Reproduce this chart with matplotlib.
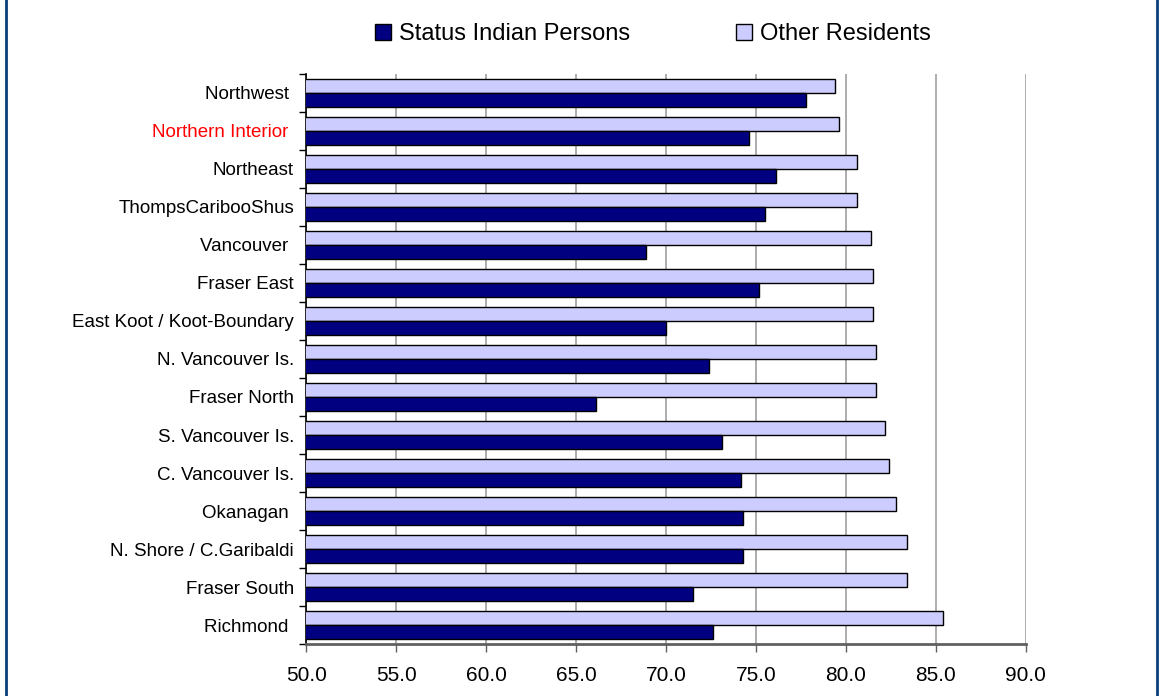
import numpy as np
import matplotlib.pyplot as plt
from matplotlib.patches import Patch
from matplotlib.lines import Line2D

plt.rcParams['font.family'] = ['Liberation Sans', 'DejaVu Sans']

# ======================
# DATA (top to bottom)
# ======================
regions = [
    "Northwest ", "Northern Interior ", "Northeast", "ThompsCaribooShus",
    "Vancouver ", "Fraser East", "East Koot / Koot-Boundary",
    "N. Vancouver Is.", "Fraser North", "S. Vancouver Is.",
    "C. Vancouver Is.", "Okanagan ", "N. Shore / C.Garibaldi",
    "Fraser South", "Richmond ",
]
status_indian = [77.8, 74.6, 76.1, 75.5, 68.9, 75.2, 70.0, 72.4, 66.1,
                 73.1, 74.2, 74.3, 74.3, 71.5, 72.6]
other_residents = [79.4, 79.6, 80.6, 80.6, 81.4, 81.5, 81.5, 81.7, 81.7,
                   82.2, 82.4, 82.8, 83.4, 83.4, 85.4]
xticks = [50, 55, 60, 65, 70, 75, 80, 85, 90]

dark = "#000080"
light = "#CCCCFF"

# ======================
# PLOT
# ======================
fig = plt.figure(figsize=(11.63, 6.96), dpi=100)
ax = fig.add_axes([0.2635, 0.0747, 0.6183, 0.819])

y = np.arange(len(regions))
h = 0.37
ax.barh(y - h / 2, other_residents, height=h, color=light,
        edgecolor="black", linewidth=1.0, zorder=3)
ax.barh(y + h / 2, status_indian, height=h, color=dark,
        edgecolor="black", linewidth=1.0, zorder=3)

ax.set_xlim(50, 90)
ax.set_ylim(len(regions) - 0.5, -0.5)

ax.set_xticks(xticks)
ax.set_xticklabels([f"{v:.1f}" for v in xticks], fontsize=15)
ax.tick_params(axis="x", direction="out", length=6, width=1,
               color="#606060", pad=10)
ax.xaxis.grid(True, color="#a0a0a0", linewidth=1.2, zorder=0)

ax.set_yticks(y)
ax.set_yticklabels(regions, fontsize=13.5)
ax.set_yticks(np.arange(len(regions) + 1) - 0.5, minor=True)
ax.tick_params(axis="y", which="major", length=0, pad=9)
ax.tick_params(axis="y", which="minor", direction="out", length=5,
               width=1, color="black")
ax.get_yticklabels()[1].set_color("red")

for s in ["top", "right"]:
    ax.spines[s].set_visible(False)
ax.spines["left"].set_color("black")
ax.spines["left"].set_linewidth(1.2)
ax.spines["bottom"].set_color("#606060")
ax.spines["bottom"].set_linewidth(2)

handles = [Patch(facecolor=dark, edgecolor="black", linewidth=1),
           Patch(facecolor=light, edgecolor="black", linewidth=1)]
fig.legend(handles, ["Status Indian Persons", "Other Residents"],
           loc="center", bbox_to_anchor=(0.5615, 0.951), ncol=2,
           frameon=False, fontsize=17, handlelength=0.65,
           handleheight=0.65, handletextpad=0.35, columnspacing=4.5)

# side borders of the frame
for xb in [6 / 1163, 1157 / 1163]:
    fig.add_artist(Line2D([xb, xb], [0, 1], transform=fig.transFigure,
                          color="#0b3d7a", linewidth=2))

plt.savefig("out.png", dpi=100)
